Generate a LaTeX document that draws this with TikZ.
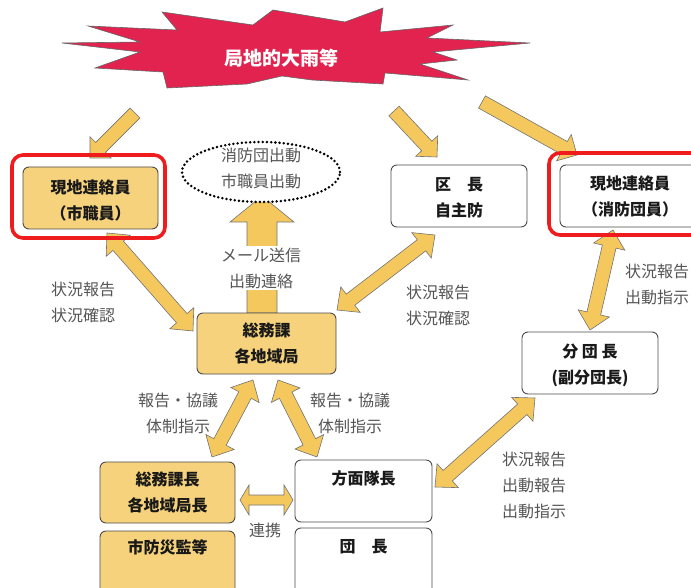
\documentclass[tikz,border=0pt]{standalone}
\usepackage{fontspec}
\setmainfont{Noto Sans CJK JP}
\usetikzlibrary{calc,shapes.geometric}
\definecolor{boxy}{HTML}{F6D27C}
\definecolor{arry}{HTML}{F5C85E}
\definecolor{burst}{HTML}{E2234F}
\definecolor{lbl}{HTML}{555555}
\definecolor{redo}{HTML}{EE1C1C}
\tikzset{
 box/.style={draw=black!70, line width=0.9pt, rounded corners=6pt, inner sep=0pt},
 ybox/.style={box, fill=boxy},
 wbox/.style={box, fill=white},
 redframe/.style={draw=redo, line width=3.6pt, rounded corners=11pt},
 btext/.style={font=\bfseries\fontsize{16}{26}\selectfont, align=center, text=black!90},
 lab/.style={font=\fontsize{16}{26}\selectfont, align=center, text=lbl},
 fat/.style={fill=arry, draw=black!55, line width=0.6pt, line join=miter},
}
\newcommand\fatone[5]{%
 \coordinate (hb) at ($(#2)!#5!(#1)$);
 \draw[fat] ($(#1)!#3!90:(#2)$) -- ($(hb)!#3!90:(#2)$) -- ($(hb)!#4!90:(#2)$) -- (#2) -- ($(hb)!#4!-90:(#2)$) -- ($(hb)!#3!-90:(#2)$) -- ($(#1)!#3!-90:(#2)$) -- cycle;}
\newcommand\fattwo[5]{%
 \coordinate (ha) at ($(#1)!#5!(#2)$);
 \coordinate (hb) at ($(#2)!#5!(#1)$);
 \draw[fat] (#1) -- ($(ha)!#4!90:(#2)$) -- ($(ha)!#3!90:(#2)$) -- ($(hb)!#3!90:(#2)$) -- ($(hb)!#4!90:(#2)$) -- (#2) -- ($(hb)!#4!-90:(#2)$) -- ($(hb)!#3!-90:(#2)$) -- ($(ha)!#3!-90:(#2)$) -- ($(ha)!#4!-90:(#2)$) -- cycle;}
\begin{document}
\begin{tikzpicture}[x=1pt,y=-1pt]
\useasboundingbox (0,0) rectangle (691,588);
\fill[white] (0,0) rectangle (691,588);

% starburst
\draw[fill=burst, draw=black!60, line width=0.6pt, line join=miter]
 (62,43) -- (140,42) -- (88,26) -- (177,30) -- (162,12) -- (253,25) -- (273,10) -- (345,22) -- (383,8) -- (380,32) -- (453,25) -- (427,38) -- (530,43) -- (433,52) -- (457,60) -- (420,64) -- (468,80) -- (385,73) -- (383,84) -- (312,80) -- (282,76) -- (247,84) -- (167,88) -- (163,72) -- (95,68) -- (140,52) -- cycle;
\node[font=\bfseries\fontsize{19}{22}\selectfont, text=white] (rain) at (281,58) {局地的大雨等};

% arrow end points
\coordinate (s1a) at (135,113); \coordinate (s1b) at (90,158);
\coordinate (s2a) at (394,111); \coordinate (s2b) at (437,157);
\coordinate (s3a) at (482,102); \coordinate (s3b) at (577,155);
\coordinate (ua) at (262,313); \coordinate (ub) at (262,196);
\coordinate (a1a) at (107,233); \coordinate (a1b) at (193,331);
\coordinate (a2a) at (435,235); \coordinate (a2b) at (337,310);
\coordinate (a3a) at (613,230); \coordinate (a3b) at (590,330);
\coordinate (a4a) at (253,380); \coordinate (a4b) at (212,457);
\coordinate (a5a) at (278,380); \coordinate (a5b) at (317,457);
\coordinate (a6a) at (535,398); \coordinate (a6b) at (435,487);
\coordinate (ra) at (240,500); \coordinate (rb) at (293,500);

\fatone{s1a}{s1b}{7pt}{15pt}{15pt}
\fatone{s2a}{s2b}{7pt}{15pt}{15pt}
\fatone{s3a}{s3b}{7pt}{15pt}{15pt}
\fatone{ua}{ub}{15pt}{32pt}{26pt}
\fattwo{a1a}{a1b}{7pt}{16pt}{17pt}
\fattwo{a2a}{a2b}{7pt}{16pt}{17pt}
\fattwo{a3a}{a3b}{7pt}{16pt}{17pt}
\fattwo{a4a}{a4b}{7pt}{16pt}{17pt}
\fattwo{a5a}{a5b}{7pt}{16pt}{17pt}
\fattwo{a6a}{a6b}{7pt}{16pt}{17pt}
\fattwo{ra}{rb}{5pt}{15pt}{9pt}

% ellipse
\node[ellipse, draw=black, line width=2.8pt, dash pattern=on 0pt off 4.2pt, line cap=round, minimum width=158pt, minimum height=60pt, fill=white] (ell) at (261,172) {};
\node[lab] (elltxt) at (261,168) {消防団出動\\市職員出動};

% boxes
\node[ybox, minimum width=135pt, minimum height=62pt] (shi) at (90.5,198) {};
\node[btext] (shitxt) at (90.5,200) {現地連絡員\\（市職員）};
\node[wbox, minimum width=136pt, minimum height=62pt] (ku) at (459,196) {};
\node[btext] (kutxt) at (459,198) {区　長\\自主防};
\node[wbox, minimum width=140pt, minimum height=62pt] (dan) at (630,196) {};
\node[btext] (dantxt) at (630,196) {現地連絡員\\（消防団員）};
\node[ybox, minimum width=139pt, minimum height=61pt] (somu) at (266.5,343.5) {};
\node[btext] (somutxt) at (266.5,343.5) {総務課\\各地域局};
\node[wbox, minimum width=136pt, minimum height=62pt] (bun) at (590,363) {};
\node[btext] (buntxt) at (590,365) {分 団 長\\(副分団長)};
\node[ybox, minimum width=135pt, minimum height=61pt] (kacho) at (167.5,492.5) {};
\node[btext] (kachotxt) at (167.5,492) {総務課長\\各地域局長};
\node[ybox, minimum width=135pt, minimum height=69pt] (bosai) at (167.5,565.5) {};
\node[btext] (bosaitxt) at (167.5,547) {市防災監等};
\node[wbox, minimum width=137pt, minimum height=62pt] (homen) at (363.5,491) {};
\node[btext] (homentxt) at (363.5,478) {方面隊長};
\node[wbox, minimum width=137pt, minimum height=72pt] (dancho) at (363.5,564) {};
\node[btext] (danchotxt) at (363.5,547) {団　長};

% red frames
\draw[redframe] (12,155) rectangle (165,238);
\draw[redframe] (549,153) rectangle (712,235);

% labels
\node[lab] (l1) at (83,302) {状況報告\\状況確認};
\node[lab, fill=white, inner sep=2pt] (mail) at (261,268) {メール送信\\出動連絡};
\node[lab] (l2) at (438,305) {状況報告\\状況確認};
\node[lab] (l3) at (657,284) {状況報告\\出動指示};
\node[lab] (l4) at (178,413) {報告・協議\\体制指示};
\node[lab] (l5) at (350,413) {報告・協議\\体制指示};
\node[lab] (l6) at (534,485) {状況報告\\出動報告\\出動指示};
\node[lab] (renkei) at (265,530) {連携};
\end{tikzpicture}
\end{document}
